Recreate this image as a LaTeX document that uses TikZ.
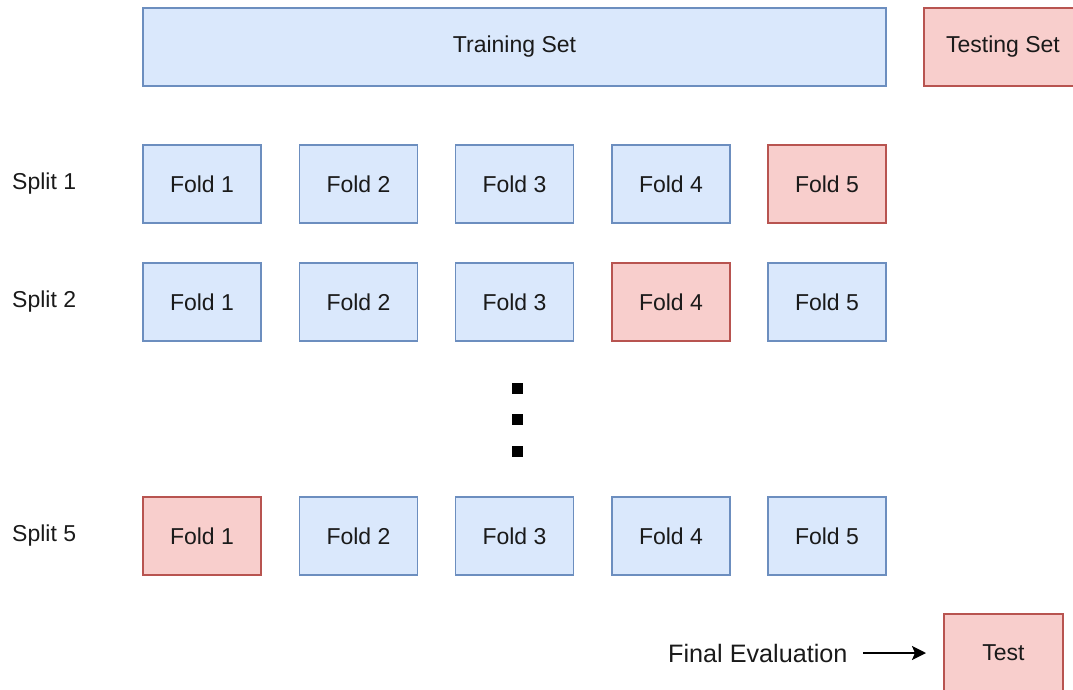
\documentclass[tikz,border=0pt]{standalone}
\usepackage{fontspec}
\setmainfont{Liberation Sans}
\usetikzlibrary{arrows.meta}
\definecolor{bfill}{HTML}{DAE8FC}
\definecolor{bdraw}{HTML}{6C8EBF}
\definecolor{rfill}{HTML}{F8CECC}
\definecolor{rdraw}{HTML}{B85450}
\definecolor{txt}{HTML}{1A1A1A}
\begin{document}
\begin{tikzpicture}[x=1pt,y=-1pt,
  font=\fontsize{23}{26}\selectfont,
  box/.style={rectangle,line width=1.6pt,inner sep=0pt,minimum height=78pt,text=txt},
  blue/.style={box,fill=bfill,draw=bdraw,minimum width=118pt},
  red/.style={box,fill=rfill,draw=rdraw,minimum width=118pt},
  lbl/.style={anchor=west,inner sep=0pt,text=txt},
  dot/.style={rectangle,fill=black,inner sep=0pt,minimum size=11pt}]
\useasboundingbox (0,0) rectangle (1073,690);
\node[blue,minimum width=743pt] (train) at (514.5,47) {Training Set};
\node[red,minimum width=158pt] (testset) at (1003,47) {Testing Set};
% Split 1
\node[lbl] (s1) at (12,184) {Split 1};
\node[blue] (a1) at (202,184) {Fold 1};
\node[blue] (a2) at (358.5,184) {Fold 2};
\node[blue] (a3) at (514.5,184) {Fold 3};
\node[blue] (a4) at (671,184) {Fold 4};
\node[red] (a5) at (827,184) {Fold 5};
% Split 2
\node[lbl] (s2) at (12,302) {Split 2};
\node[blue] (b1) at (202,302) {Fold 1};
\node[blue] (b2) at (358.5,302) {Fold 2};
\node[blue] (b3) at (514.5,302) {Fold 3};
\node[red] (b4) at (671,302) {Fold 4};
\node[blue] (b5) at (827,302) {Fold 5};
% dots
\node[dot] (d1) at (517.5,388) {};
\node[dot] (d2) at (517.5,419) {};
\node[dot] (d3) at (517.5,451) {};
% Split 5
\node[lbl] (s5) at (12,536) {Split 5};
\node[red] (c1) at (202,536) {Fold 1};
\node[blue] (c2) at (358.5,536) {Fold 2};
\node[blue] (c3) at (514.5,536) {Fold 3};
\node[blue] (c4) at (671,536) {Fold 4};
\node[blue] (c5) at (827,536) {Fold 5};
% final
\node[lbl,font=\fontsize{25.2}{28}\selectfont] (fe) at (668,653) {Final Evaluation};
\node[red,minimum width=119pt] (test) at (1003.5,653) {Test};
\coordinate (as) at (863,653);
\coordinate (ae) at (926,653);
\draw[line width=2pt,-{Stealth[length=14pt,width=14pt,inset=3pt]}] (as) -- (ae);
\end{tikzpicture}
\end{document}
